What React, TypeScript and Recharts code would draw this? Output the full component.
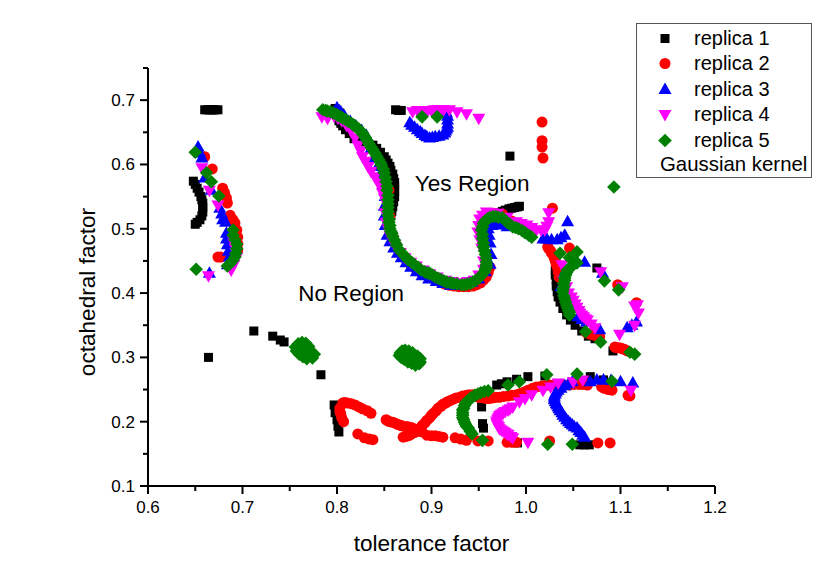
import { ScatterChart, Scatter, XAxis, YAxis, Legend, Label, ReferenceDot } from 'recharts';

type Pt = [number, number];

const xTicks = [0.6, 0.65, 0.7, 0.75, 0.8, 0.85, 0.9, 0.95, 1.0, 1.05, 1.1, 1.15, 1.2];
const yTicks = [0.1, 0.15, 0.2, 0.25, 0.3, 0.35, 0.4, 0.45, 0.5, 0.55, 0.6, 0.65, 0.7, 0.75];

const replica1: Pt[] = [
  [0.66, 0.685], [0.663, 0.685], [0.665, 0.685], [0.667, 0.685], [0.669, 0.685], [0.671, 0.685], [0.674, 0.685],
  [0.648, 0.574], [0.65, 0.569], [0.652, 0.563], [0.654, 0.557], [0.656, 0.55], [0.657, 0.545], [0.658, 0.54], [0.658, 0.533], [0.658, 0.526], [0.657, 0.52], [0.655, 0.514], [0.652, 0.51], [0.65, 0.507],
  [0.664, 0.3], [0.712, 0.341], [0.732, 0.333], [0.74, 0.327], [0.744, 0.324], [0.783, 0.273],
  [0.798, 0.687], [0.803, 0.68], [0.802, 0.668], [0.804, 0.664], [0.806, 0.66], [0.809, 0.654], [0.813, 0.648], [0.818, 0.64], [0.824, 0.635],
  [0.838, 0.63], [0.842, 0.625], [0.846, 0.619], [0.85, 0.612], [0.852, 0.607], [0.854, 0.602], [0.856, 0.597], [0.857, 0.591], [0.859, 0.585], [0.86, 0.578], [0.861, 0.572], [0.861, 0.565], [0.861, 0.558], [0.861, 0.55], [0.86, 0.542], [0.859, 0.534], [0.858, 0.527], [0.857, 0.52],
  [0.862, 0.685], [0.865, 0.684], [0.868, 0.684],
  [0.983, 0.613],
  [0.968, 0.522], [0.971, 0.525], [0.975, 0.527], [0.978, 0.529], [0.982, 0.531], [0.985, 0.532], [0.988, 0.533], [0.991, 0.534], [0.993, 0.535],
  [1.075, 0.439],
  [1.031, 0.435], [1.031, 0.428], [1.032, 0.42], [1.032, 0.411], [1.033, 0.402], [1.034, 0.394], [1.036, 0.386], [1.039, 0.376], [1.043, 0.366], [1.047, 0.358], [1.052, 0.35], [1.059, 0.341], [1.066, 0.333], [1.073, 0.329], [1.092, 0.31],
  [0.797, 0.226], [0.798, 0.214], [0.8, 0.203], [0.801, 0.193], [0.802, 0.184],
  [0.953, 0.223], [0.954, 0.197], [0.955, 0.19],
  [0.969, 0.257], [0.974, 0.259], [0.98, 0.262], [0.99, 0.266], [1.002, 0.27], [1.02, 0.271], [1.068, 0.27], [1.082, 0.265],
  [0.991, 0.167], [1.057, 0.164], [1.062, 0.164], [1.067, 0.164],
];

const replica2: Pt[] = [
  [0.66, 0.612], [0.668, 0.593], [0.679, 0.563], [0.681, 0.556], [0.683, 0.548], [0.684, 0.54], [0.687, 0.521], [0.69, 0.514], [0.692, 0.509], [0.694, 0.498], [0.695, 0.487], [0.695, 0.477], [0.695, 0.467],
  [0.674, 0.456], [0.677, 0.456],
  [1.017, 0.666], [1.017, 0.637], [1.017, 0.627], [1.018, 0.61], [1.028, 0.532],
  [0.855, 0.56], [0.856, 0.52], [0.859, 0.49], [0.862, 0.476], [0.866, 0.463], [0.87, 0.456], [0.874, 0.45], [0.879, 0.443], [0.884, 0.436], [0.889, 0.432], [0.894, 0.428], [0.899, 0.424], [0.904, 0.42], [0.909, 0.417], [0.914, 0.414], [0.919, 0.412], [0.924, 0.411], [0.929, 0.41], [0.934, 0.41], [0.939, 0.41], [0.944, 0.411], [0.948, 0.413], [0.952, 0.416], [0.955, 0.42], [0.958, 0.425], [0.96, 0.432], [0.962, 0.44],
  [0.96, 0.51], [0.966, 0.524], [0.975, 0.523], [0.985, 0.512],
  [1.023, 0.472], [1.024, 0.469], [1.026, 0.466], [1.027, 0.462], [1.029, 0.459], [1.03, 0.454], [1.031, 0.45], [1.032, 0.445], [1.033, 0.441], [1.034, 0.433], [1.035, 0.425], [1.046, 0.47],
  [1.064, 0.338], [1.068, 0.336], [1.071, 0.335], [1.075, 0.333], [1.078, 0.332], [1.094, 0.316], [1.096, 0.315], [1.099, 0.315], [1.101, 0.314], [1.103, 0.313], [1.105, 0.312], [1.107, 0.31], [1.097, 0.413], [1.117, 0.385],
  [0.806, 0.229], [0.803, 0.221], [0.803, 0.216], [0.804, 0.212], [0.805, 0.206], [0.807, 0.2], [0.808, 0.23], [0.811, 0.229], [0.815, 0.228], [0.819, 0.226], [0.823, 0.223], [0.827, 0.22], [0.832, 0.217], [0.836, 0.213],
  [0.822, 0.181], [0.829, 0.175], [0.834, 0.173], [0.838, 0.172],
  [0.852, 0.203], [0.854, 0.201], [0.856, 0.2], [0.859, 0.199], [0.861, 0.198], [0.864, 0.196], [0.866, 0.195], [0.868, 0.194], [0.87, 0.193], [0.873, 0.192], [0.875, 0.192], [0.878, 0.191], [0.88, 0.19], [0.883, 0.188], [0.885, 0.187], [0.888, 0.185], [0.89, 0.184],
  [0.87, 0.176], [0.873, 0.177], [0.875, 0.178], [0.877, 0.179], [0.879, 0.181], [0.882, 0.183], [0.884, 0.185], [0.886, 0.187], [0.888, 0.19], [0.89, 0.194], [0.893, 0.198], [0.895, 0.202], [0.898, 0.206], [0.9, 0.21], [0.902, 0.213], [0.905, 0.217], [0.907, 0.221], [0.91, 0.224], [0.912, 0.227], [0.915, 0.229], [0.917, 0.231], [0.92, 0.233], [0.923, 0.235], [0.926, 0.237], [0.93, 0.238], [0.933, 0.24], [0.937, 0.241], [0.94, 0.242], [0.944, 0.242], [0.947, 0.24], [0.95, 0.238], [0.954, 0.237], [0.958, 0.236], [0.961, 0.236], [0.965, 0.237], [0.968, 0.238], [0.972, 0.238], [0.976, 0.239], [0.981, 0.24], [0.985, 0.241], [0.99, 0.242], [0.994, 0.244], [0.998, 0.246], [1.002, 0.249], [1.007, 0.252], [1.011, 0.254], [1.016, 0.255], [1.02, 0.256], [1.025, 0.257], [1.03, 0.257], [1.035, 0.257], [1.04, 0.257], [1.046, 0.257], [1.051, 0.258], [1.056, 0.258], [1.06, 0.258], [1.065, 0.257], [1.08, 0.254], [1.083, 0.252], [1.087, 0.25], [1.091, 0.249], [1.108, 0.241], [1.11, 0.24],
  [0.895, 0.179], [0.9, 0.178], [0.904, 0.178], [0.908, 0.177], [0.912, 0.176], [0.925, 0.175], [0.931, 0.173], [0.937, 0.171], [0.949, 0.17], [0.96, 0.17], [0.98, 0.168], [0.985, 0.168], [0.99, 0.168], [1.025, 0.17], [1.076, 0.167], [1.089, 0.167],
];

const replica3: Pt[] = [
  [0.653, 0.627], [0.655, 0.618], [0.657, 0.61], [0.66, 0.579], [0.667, 0.56], [0.676, 0.532], [0.678, 0.523], [0.679, 0.514], [0.682, 0.51], [0.683, 0.493], [0.683, 0.484], [0.684, 0.475], [0.685, 0.465], [0.686, 0.456], [0.684, 0.444], [0.665, 0.431],
  [0.788, 0.679], [0.8, 0.688], [0.804, 0.682], [0.808, 0.675], [0.814, 0.667], [0.82, 0.66], [0.826, 0.653], [0.831, 0.645], [0.836, 0.625], [0.84, 0.61], [0.843, 0.597], [0.846, 0.585], [0.849, 0.568], [0.851, 0.55], [0.85, 0.535], [0.85, 0.52], [0.851, 0.505], [0.853, 0.49], [0.856, 0.48], [0.86, 0.47], [0.864, 0.462], [0.868, 0.455], [0.873, 0.447], [0.878, 0.44], [0.884, 0.433], [0.89, 0.427], [0.897, 0.422], [0.905, 0.418], [0.912, 0.415], [0.92, 0.412], [0.928, 0.412], [0.935, 0.413], [0.943, 0.417], [0.95, 0.422], [0.957, 0.433], [0.962, 0.445], [0.963, 0.46], [0.962, 0.478], [0.961, 0.49], [0.96, 0.5], [0.964, 0.505], [0.968, 0.508], [0.974, 0.506], [0.98, 0.503],
  [0.877, 0.665], [0.879, 0.661], [0.882, 0.658], [0.885, 0.654], [0.888, 0.651], [0.89, 0.648], [0.893, 0.645], [0.895, 0.643], [0.898, 0.641], [0.901, 0.642], [0.904, 0.643], [0.908, 0.644], [0.912, 0.646], [0.914, 0.649], [0.915, 0.652], [0.916, 0.655], [0.917, 0.658], [0.917, 0.663], [0.917, 0.669], [0.917, 0.675], [0.916, 0.68],
  [1.044, 0.511], [1.041, 0.49], [1.037, 0.486], [1.033, 0.483], [1.027, 0.483], [1.022, 0.484], [1.018, 0.484], [1.062, 0.448], [1.081, 0.431],
  [1.04, 0.43], [1.037, 0.41], [1.055, 0.363], [1.059, 0.359], [1.064, 0.355], [1.078, 0.343], [1.107, 0.346], [1.112, 0.35], [1.117, 0.355],
  [1.113, 0.26], [1.1, 0.262], [1.09, 0.264], [1.082, 0.265], [1.075, 0.265], [1.068, 0.262], [1.049, 0.262], [1.045, 0.259], [1.041, 0.256], [1.037, 0.252], [1.034, 0.249], [1.032, 0.246], [1.031, 0.243], [1.03, 0.24], [1.03, 0.237], [1.03, 0.234], [1.031, 0.231], [1.032, 0.228], [1.033, 0.226], [1.034, 0.223], [1.035, 0.22], [1.036, 0.217], [1.038, 0.214], [1.039, 0.21], [1.041, 0.207], [1.043, 0.203], [1.045, 0.2], [1.047, 0.197], [1.049, 0.195], [1.051, 0.192], [1.054, 0.19], [1.056, 0.186], [1.058, 0.183], [1.06, 0.179], [1.062, 0.176],
];

const replica4: Pt[] = [
  [0.657, 0.595], [0.665, 0.56], [0.674, 0.537], [0.69, 0.483], [0.691, 0.477], [0.692, 0.47], [0.693, 0.463], [0.694, 0.456], [0.691, 0.445], [0.688, 0.436], [0.664, 0.427],
  [0.784, 0.674], [0.79, 0.672], [0.797, 0.675], [0.801, 0.672], [0.805, 0.668], [0.81, 0.661], [0.815, 0.652], [0.819, 0.641], [0.822, 0.63], [0.825, 0.621], [0.827, 0.612], [0.83, 0.605], [0.833, 0.597], [0.836, 0.589], [0.84, 0.581], [0.843, 0.573], [0.846, 0.566], [0.848, 0.556], [0.85, 0.548], [0.852, 0.54], [0.851, 0.525], [0.852, 0.51], [0.854, 0.5], [0.856, 0.49], [0.859, 0.481], [0.862, 0.472], [0.867, 0.463], [0.872, 0.455], [0.878, 0.448], [0.884, 0.442], [0.891, 0.436], [0.898, 0.43], [0.906, 0.425], [0.915, 0.42], [0.922, 0.418], [0.93, 0.416], [0.938, 0.418], [0.945, 0.42], [0.95, 0.428], [0.955, 0.437], [0.955, 0.45], [0.953, 0.47], [0.951, 0.483], [0.949, 0.495], [0.95, 0.505], [0.951, 0.515], [0.954, 0.521], [0.958, 0.526], [0.964, 0.525], [0.97, 0.524], [0.98, 0.518],
  [0.88, 0.682], [0.885, 0.684], [0.889, 0.684], [0.892, 0.684], [0.896, 0.684], [0.9, 0.684], [0.903, 0.685], [0.907, 0.685], [0.91, 0.685], [0.913, 0.685], [0.919, 0.685], [0.927, 0.682], [0.937, 0.679], [0.95, 0.672],
  [1.024, 0.525], [1.024, 0.511], [1.022, 0.504], [1.02, 0.498], [1.016, 0.498], [1.011, 0.498], [1.006, 0.502], [1.001, 0.506], [0.995, 0.508], [0.99, 0.511],
  [1.079, 0.433], [1.102, 0.41], [1.115, 0.38], [1.118, 0.382], [1.119, 0.369], [1.115, 0.35], [1.099, 0.336],
  [1.038, 0.444], [1.04, 0.42], [1.043, 0.41], [1.045, 0.4], [1.048, 0.394], [1.05, 0.389], [1.052, 0.383], [1.054, 0.378], [1.056, 0.373], [1.057, 0.369], [1.059, 0.366], [1.061, 0.363], [1.063, 0.36], [1.065, 0.358], [1.069, 0.352], [1.073, 0.346],
  [1.111, 0.249], [1.06, 0.265], [1.05, 0.262], [1.034, 0.26], [1.026, 0.254], [1.018, 0.249], [1.006, 0.242], [0.999, 0.236], [0.993, 0.231],
  [0.986, 0.223], [0.983, 0.22], [0.981, 0.218], [0.978, 0.216], [0.976, 0.214], [0.974, 0.212], [0.972, 0.21], [0.971, 0.207], [0.97, 0.204], [0.969, 0.201], [0.969, 0.198], [0.97, 0.195], [0.971, 0.192], [0.972, 0.189], [0.974, 0.187], [0.976, 0.185], [0.978, 0.183], [0.98, 0.181], [0.981, 0.18], [0.984, 0.177], [0.986, 0.175], [1.002, 0.168],
];

const replica5: Pt[] = [
  [0.65, 0.619], [0.662, 0.587], [0.667, 0.573], [0.675, 0.551], [0.69, 0.498], [0.69, 0.49], [0.692, 0.483], [0.694, 0.476], [0.694, 0.469], [0.693, 0.462], [0.692, 0.456], [0.69, 0.451], [0.687, 0.446], [0.684, 0.442], [0.651, 0.437],
  [0.785, 0.685], [0.788, 0.684], [0.79, 0.683], [0.793, 0.682], [0.796, 0.68], [0.799, 0.678], [0.801, 0.676], [0.804, 0.674], [0.806, 0.672], [0.809, 0.67], [0.812, 0.667], [0.815, 0.664], [0.817, 0.662], [0.819, 0.66], [0.821, 0.657], [0.823, 0.655], [0.825, 0.652], [0.827, 0.649], [0.828, 0.646], [0.83, 0.642], [0.832, 0.637], [0.834, 0.632], [0.836, 0.627], [0.838, 0.623], [0.84, 0.618], [0.842, 0.613], [0.844, 0.608], [0.846, 0.603], [0.847, 0.599], [0.849, 0.593], [0.85, 0.587], [0.851, 0.58], [0.852, 0.573], [0.853, 0.566], [0.853, 0.56], [0.854, 0.552], [0.854, 0.545], [0.854, 0.539], [0.854, 0.533], [0.854, 0.527], [0.854, 0.521], [0.855, 0.515], [0.855, 0.51], [0.856, 0.505], [0.856, 0.5], [0.857, 0.496], [0.858, 0.493], [0.859, 0.488], [0.861, 0.482], [0.863, 0.475], [0.866, 0.467], [0.869, 0.462], [0.872, 0.457], [0.875, 0.452], [0.879, 0.448], [0.882, 0.444], [0.886, 0.44], [0.889, 0.436], [0.893, 0.433], [0.896, 0.431], [0.898, 0.431], [0.901, 0.428], [0.904, 0.425], [0.907, 0.423], [0.91, 0.421], [0.913, 0.419], [0.916, 0.417], [0.92, 0.416], [0.923, 0.415], [0.927, 0.414], [0.932, 0.413], [0.935, 0.413], [0.938, 0.414], [0.941, 0.415], [0.944, 0.417], [0.947, 0.42], [0.95, 0.423], [0.953, 0.428], [0.956, 0.433], [0.957, 0.437], [0.958, 0.44], [0.958, 0.444], [0.958, 0.448], [0.958, 0.454], [0.957, 0.46], [0.956, 0.466], [0.955, 0.472], [0.955, 0.478], [0.954, 0.485], [0.954, 0.491], [0.953, 0.498], [0.954, 0.503], [0.955, 0.508], [0.956, 0.511], [0.958, 0.514], [0.96, 0.516], [0.962, 0.518], [0.965, 0.519], [0.968, 0.519], [0.971, 0.518], [0.975, 0.517], [0.978, 0.513], [0.98, 0.51], [0.983, 0.507], [0.986, 0.503], [0.989, 0.502], [0.992, 0.5], [0.996, 0.497], [0.999, 0.494], [1.003, 0.49], [1.006, 0.487],
  [0.89, 0.674], [0.906, 0.674],
  [1.093, 0.565],
  [1.036, 0.462], [1.046, 0.455], [1.054, 0.464], [1.054, 0.447], [1.049, 0.442], [1.046, 0.439], [1.044, 0.436], [1.043, 0.432], [1.042, 0.428], [1.041, 0.424], [1.041, 0.42], [1.04, 0.415], [1.04, 0.41], [1.039, 0.406], [1.039, 0.402], [1.04, 0.396], [1.041, 0.391], [1.042, 0.386], [1.043, 0.381], [1.044, 0.377], [1.045, 0.373], [1.046, 0.37], [1.046, 0.366], [1.063, 0.34], [1.079, 0.324],
  [1.083, 0.419], [1.098, 0.405], [1.11, 0.308], [1.115, 0.305],
  [0.756, 0.316], [0.757, 0.31], [0.759, 0.321], [0.76, 0.305], [0.761, 0.316], [0.762, 0.311], [0.763, 0.323], [0.764, 0.301], [0.765, 0.317], [0.766, 0.31], [0.767, 0.322], [0.768, 0.298], [0.769, 0.306], [0.77, 0.317], [0.771, 0.311], [0.773, 0.304], [0.774, 0.299], [0.776, 0.305],
  [0.866, 0.303], [0.867, 0.307], [0.868, 0.3], [0.869, 0.31], [0.87, 0.303], [0.871, 0.297], [0.872, 0.311], [0.873, 0.305], [0.874, 0.299], [0.875, 0.293], [0.876, 0.31], [0.877, 0.304], [0.878, 0.298], [0.879, 0.291], [0.88, 0.307], [0.881, 0.301], [0.882, 0.295], [0.883, 0.288], [0.885, 0.302], [0.886, 0.296], [0.887, 0.29], [0.888, 0.298], [0.888, 0.293],
  [0.946, 0.241], [0.943, 0.238], [0.941, 0.236], [0.939, 0.233], [0.937, 0.231], [0.936, 0.228], [0.935, 0.225], [0.934, 0.221], [0.933, 0.218], [0.933, 0.214], [0.933, 0.21], [0.933, 0.206], [0.934, 0.203], [0.935, 0.199], [0.936, 0.196], [0.937, 0.193], [0.939, 0.19], [0.941, 0.185], [0.943, 0.181], [0.954, 0.171],
  [0.949, 0.243], [0.952, 0.245], [0.956, 0.247], [0.96, 0.248], [0.981, 0.257], [0.993, 0.262], [1.022, 0.273], [1.054, 0.274], [1.091, 0.263], [1.023, 0.165], [1.049, 0.165],
];

const seriesNames = ['replica 1', 'replica 2', 'replica 3', 'replica 4', 'replica 5'];
const seriesColors = ['#000000', '#ff0000', '#0000ff', '#ff00ff', '#008000'];
const seriesValues = [replica1, replica2, replica3, replica4, replica5];
const extraLegendText = 'Gaussian kernel';

const FONT = '"Liberation Sans", Arial, sans-serif';

const toRows = (pts: Pt[]) => pts.map(([tolerance, octahedral]) => ({ tolerance, octahedral }));

function marker(i: number, cx: number, cy: number) {
  const c = seriesColors[i];
  if (i === 0) return <rect x={cx - 4.5} y={cy - 4.5} width={9} height={9} fill={c} />;
  if (i === 1) return <circle cx={cx} cy={cy} r={5.5} fill={c} />;
  if (i === 2) return <polygon points={`${cx},${cy - 7} ${cx + 6.5},${cy + 4.5} ${cx - 6.5},${cy + 4.5}`} fill={c} />;
  if (i === 3) return <polygon points={`${cx},${cy + 7} ${cx + 6.5},${cy - 4.5} ${cx - 6.5},${cy - 4.5}`} fill={c} />;
  return <polygon points={`${cx},${cy - 6.8} ${cx + 6.8},${cy} ${cx},${cy + 6.8} ${cx - 6.8},${cy}`} fill={c} />;
}

const isMajor = (v: number) => Math.round(v * 100) % 10 === 0;

function XTick({ x, y, payload }: any) {
  const major = isMajor(payload.value);
  return (
    <g>
      <line x1={x} x2={x} y1={y} y2={y + (major ? 8 : 5)} stroke="#000" strokeWidth={2} />
      {major && (
        <text x={x} y={y + 27} textAnchor="middle" fontSize={17} fontFamily={FONT} fill="#000">
          {payload.value.toFixed(1)}
        </text>
      )}
    </g>
  );
}

function YTick({ x, y, payload }: any) {
  const major = isMajor(payload.value);
  return (
    <g>
      <line x1={x} x2={x - (major ? 8 : 5)} y1={y} y2={y} stroke="#000" strokeWidth={2} />
      {major && (
        <text x={x - 13} y={y + 6} textAnchor="end" fontSize={17} fontFamily={FONT} fill="#000">
          {payload.value.toFixed(1)}
        </text>
      )}
    </g>
  );
}

function LegendBox() {
  return (
    <div style={{ width: 176, height: 155, boxSizing: 'border-box', border: '1.5px solid #555', background: '#fff', fontFamily: FONT, fontSize: 20, color: '#000' }}>
      {seriesNames.map((name, i) => (
        <div key={name} style={{ position: 'absolute', left: 0, top: 3 + i * 25.4, height: 25, lineHeight: '25px', whiteSpace: 'nowrap' }}>
          <svg width={40} height={25} style={{ position: 'absolute', left: 9, top: 0 }}>{marker(i, 20, 12.5)}</svg>
          <span style={{ position: 'absolute', left: 58 }}>{name}</span>
        </div>
      ))}
      <div style={{ position: 'absolute', left: 24, top: 129, height: 25, lineHeight: '25px', whiteSpace: 'nowrap', fontSize: 20.4 }}>{extraLegendText}</div>
    </div>
  );
}

export default function App() {
  return (
    <div style={{ position: 'absolute', left: 0, top: 0, width: 830, height: 584 }}>
      <ScatterChart width={830} height={584} margin={{ top: 68, right: 115, bottom: 0, left: 60 }} style={{ background: '#fff' }}>
        <XAxis
          type="number"
          dataKey="tolerance"
          domain={[0.6, 1.2]}
          ticks={xTicks}
          interval={0}
          height={98}
          tick={XTick}
          tickLine={false}
          tickSize={0}
          tickMargin={0}
          axisLine={{ stroke: '#000', strokeWidth: 2 }}
        >
          <Label value="tolerance factor" position="insideBottom" offset={33} fontSize={22.6} fontFamily={FONT} fill="#000" />
        </XAxis>
        <YAxis
          type="number"
          dataKey="octahedral"
          domain={[0.1, 0.75]}
          ticks={yTicks}
          interval={0}
          width={88}
          tick={YTick}
          tickLine={false}
          tickSize={0}
          tickMargin={0}
          axisLine={{ stroke: '#000', strokeWidth: 2 }}
        >
          <Label value="octahedral factor" angle={-90} position="left" dx={32} dy={15} fontSize={22.6} fontFamily={FONT} fill="#000" style={{ textAnchor: 'middle' }} />
        </YAxis>
        <Legend
          layout="vertical"
          align="center"
          verticalAlign="middle"
          content={LegendBox}
          wrapperStyle={{ left: 636, top: 23, width: 176, height: 155, margin: 0 }}
        />
        {seriesNames.map((name, i) => (
          <Scatter
            key={name}
            name={name}
            data={toRows(seriesValues[i])}
            isAnimationActive={false}
            shape={(p: any) => marker(i, p.cx, p.cy)}
          />
        ))}
        <ReferenceDot x={0.815} y={0.4} r={0} label={{ value: 'No Region', position: 'center', fontSize: 22.4, fontFamily: FONT, fill: '#000' }} />
        <ReferenceDot x={0.943} y={0.571} r={0} label={{ value: 'Yes Region', position: 'center', fontSize: 22.6, fontFamily: FONT, fill: '#000' }} />
      </ScatterChart>
    </div>
  );
}
